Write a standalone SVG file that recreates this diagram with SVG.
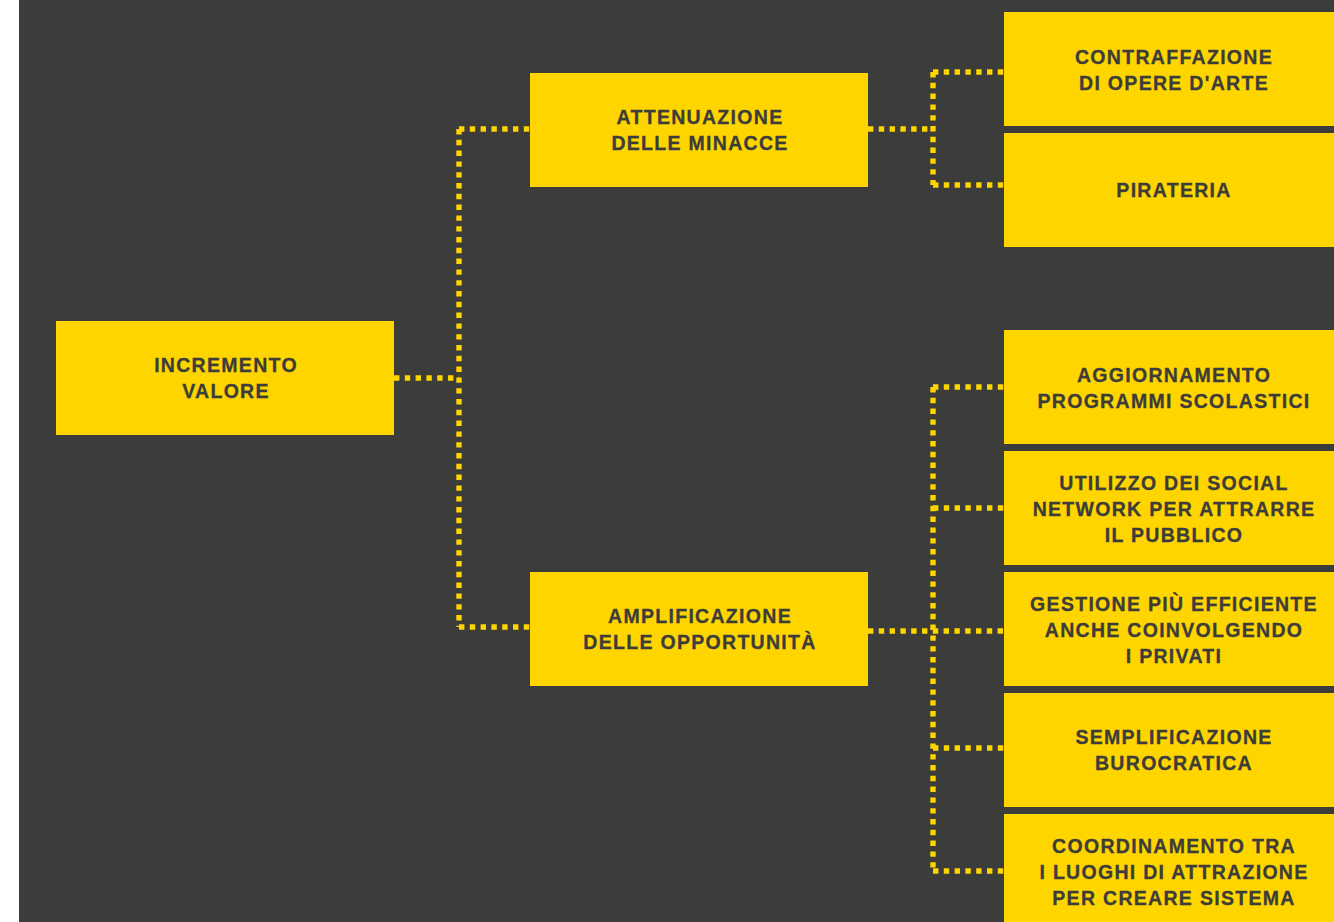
<svg xmlns="http://www.w3.org/2000/svg" width="1334" height="922" viewBox="0 0 1334 922">
<style>
.bg{fill:#3c3c3b}
.box{fill:#ffd500}
.t{font-family:"Liberation Sans",Arial,sans-serif;font-weight:bold;font-size:19.5px;letter-spacing:1.3px;fill:#3c3c3b;stroke:#3c3c3b;stroke-width:0.3;text-anchor:middle}
.c{fill:none;stroke:#ffd500;stroke-width:5.4;stroke-dasharray:5.4 5.4}
</style>
<rect x="0" y="0" width="1334" height="922" fill="#ffffff"/>
<rect class="bg" x="19" y="0" width="1315" height="922"/>
<g id="connectors">
<path class="c" d="M394,378 H459"/>
<path class="c" d="M459,129 V627"/>
<path class="c" d="M459,129 H530"/>
<path class="c" d="M459,627 H530"/>
<path class="c" d="M868,129 H933"/>
<path class="c" d="M933,72 V185"/>
<path class="c" d="M933,72 H1004"/>
<path class="c" d="M933,185 H1004"/>
<path class="c" d="M868,631 H1004"/>
<path class="c" d="M933,387 V871"/>
<path class="c" d="M933,387 H1004"/>
<path class="c" d="M933,508 H1004"/>
<path class="c" d="M933,748 H1004"/>
<path class="c" d="M933,871 H1004"/>
</g>
<g id="incremento">
<rect class="box" x="56" y="321" width="338" height="114"/>
<text class="t" x="226" y="372">INCREMENTO</text>
<text class="t" x="226" y="398">VALORE</text>
</g>
<g id="attenuazione">
<rect class="box" x="530" y="73" width="338" height="114"/>
<text class="t" x="700" y="124">ATTENUAZIONE</text>
<text class="t" x="700" y="150">DELLE MINACCE</text>
</g>
<g id="amplificazione">
<rect class="box" x="530" y="572" width="338" height="114"/>
<text class="t" x="700" y="623">AMPLIFICAZIONE</text>
<text class="t" x="700" y="649">DELLE OPPORTUNITÀ</text>
</g>
<g id="contraffazione">
<rect class="box" x="1004" y="12" width="338" height="114"/>
<text class="t" x="1174" y="64">CONTRAFFAZIONE</text>
<text class="t" x="1174" y="90">DI OPERE D'ARTE</text>
</g>
<g id="pirateria">
<rect class="box" x="1004" y="133" width="338" height="114"/>
<text class="t" x="1174" y="197">PIRATERIA</text>
</g>
<g id="aggiornamento">
<rect class="box" x="1004" y="330" width="338" height="114"/>
<text class="t" x="1174" y="382">AGGIORNAMENTO</text>
<text class="t" x="1174" y="408">PROGRAMMI SCOLASTICI</text>
</g>
<g id="utilizzo">
<rect class="box" x="1004" y="451" width="338" height="114"/>
<text class="t" x="1174" y="490">UTILIZZO DEI SOCIAL</text>
<text class="t" x="1174" y="516">NETWORK PER ATTRARRE</text>
<text class="t" x="1174" y="542">IL PUBBLICO</text>
</g>
<g id="gestione">
<rect class="box" x="1004" y="572" width="338" height="114"/>
<text class="t" x="1174" y="611">GESTIONE PIÙ EFFICIENTE</text>
<text class="t" x="1174" y="637">ANCHE COINVOLGENDO</text>
<text class="t" x="1174" y="663">I PRIVATI</text>
</g>
<g id="semplificazione">
<rect class="box" x="1004" y="693" width="338" height="114"/>
<text class="t" x="1174" y="744">SEMPLIFICAZIONE</text>
<text class="t" x="1174" y="770">BUROCRATICA</text>
</g>
<g id="coordinamento">
<rect class="box" x="1004" y="814" width="338" height="114"/>
<text class="t" x="1174" y="853">COORDINAMENTO TRA</text>
<text class="t" x="1174" y="879">I LUOGHI DI ATTRAZIONE</text>
<text class="t" x="1174" y="905">PER CREARE SISTEMA</text>
</g>
</svg>
